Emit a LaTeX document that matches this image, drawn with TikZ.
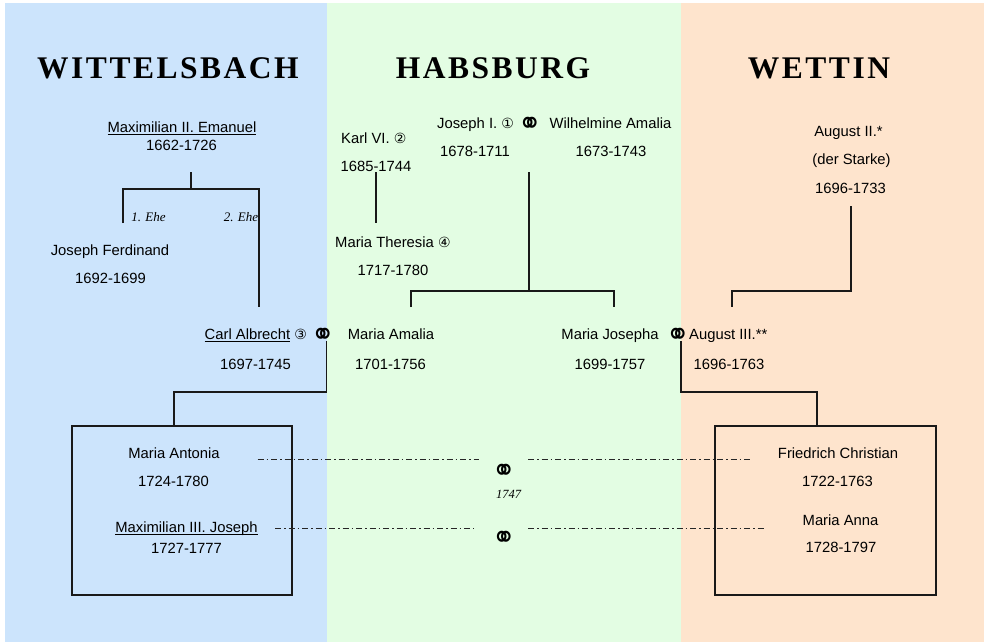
\documentclass[tikz,border=0pt]{standalone}
\usepackage{graphicx}
\usepackage{fontspec}
\setmainfont{Liberation Sans}
\newfontfamily\titlefont[LetterSpace=8]{Liberation Serif}
\newfontfamily\seriffont{Liberation Serif}
\newfontfamily\symfont{DejaVu Sans}
\definecolor{bgblue}{RGB}{204,228,252}
\definecolor{bggreen}{RGB}{227,253,227}
\definecolor{bgorange}{RGB}{254,228,205}
\newcommand{\wed}{\raisebox{-6pt}{\scalebox{1}[1.15]{\symfont\fontsize{28}{28}\selectfont ⚭}}}
\newcommand{\circnum}[1]{{\symfont\fontsize{14}{14}\selectfont #1}}
\newcommand{\myul}[1]{\leavevmode\setbox0\hbox{#1}\rlap{\rule[-2.8pt]{\wd0}{1.3pt}}\box0\relax}
\tikzset{
  title/.style={font=\titlefont\bfseries\fontsize{31.5}{33}\selectfont, anchor=base, inner sep=0},
  person/.style={font=\fontsize{14.8}{17}\selectfont, anchor=base, inner sep=0},
  personw/.style={person, anchor=base west},
  ehe/.style={font=\seriffont\itshape\fontsize{13}{14}\selectfont, anchor=base, inner sep=0},
  link/.style={line width=1.4pt, draw=black!90},
  wedlink/.style={line width=1pt, draw=black!85, dash pattern=on 6pt off 3pt on 1.5pt off 3pt},
  family/.style={draw=black!90, line width=1.4pt, minimum height=169pt, inner sep=0}
}
\begin{document}
\begin{tikzpicture}[x=1pt,y=-1pt]
\useasboundingbox (0,0) rectangle (984,642);
\fill[bgblue] (5,3) rectangle (327,642);
\fill[bggreen] (327,3) rectangle (681,642);
\fill[bgorange] (681,3) rectangle (984,642);

% titles
\node[title] (tW) at (168,78) {WITTELSBACH};
\node[title] (tH) at (493,78) {HABSBURG};
\node[title] (tE) at (819,78) {WETTIN};

% Wittelsbach
\node[person] (max2) at (182,132) {\myul{Maximilian II. Emanuel}};
\node[person] (max2d) at (181.5,150) {1662-1726};
\node[ehe] (ehe1) at (148.5,221.7) {1. Ehe};
\node[ehe] (ehe2) at (241,221.7) {2. Ehe};
\node[person] (jf) at (110,255) {Joseph Ferdinand};
\node[person] (jfd) at (110.5,283.3) {1692-1699};

% Habsburg
\node[personw] (karl) at (341,143.3) {Karl VI. \circnum{②}};
\node[person] (karld) at (376,171) {1685-1744};
\node[personw] (mt) at (335,247.7) {Maria Theresia \circnum{④}};
\node[person] (mtd) at (393,275.7) {1717-1780};
\node[personw] (j1) at (437,128.3) {Joseph I. \circnum{①} \wed};
\node[person] (j1d) at (475,156) {1678-1711};
\node[person] (wa) at (610.5,128.3) {Wilhelmine Amalia};
\node[person] (wad) at (611,156) {1673-1743};

% Wettin
\node[person] (a2) at (848.5,136.7) {August II.*};
\node[person] (a2n) at (851.5,164.5) {(der Starke)};
\node[person] (a2d) at (850.5,193.3) {1696-1733};

% spouses row
\node[personw] (ca) at (204.5,339.3) {\myul{Carl Albrecht} \circnum{③} \wed};
\node[person] (cad) at (255.5,369) {1697-1745};
\node[person] (ma) at (391,339.3) {Maria Amalia};
\node[person] (mad) at (390.5,369) {1701-1756};
\node[person] (mj) at (610,339.3) {Maria Josepha};
\node[person] (mjd) at (610,369) {1699-1757};
\node[person] (wedR) at (678.5,339.3) {\wed};
\node[personw] (a3) at (689,339.3) {August III.**};
\node[person] (a3d) at (729,369) {1696-1763};

% boxes
\node[family, minimum width=220pt] (boxL) at (182,510.5) {};
\node[family, minimum width=221pt] (boxR) at (825.5,510.5) {};

\node[person] (man) at (174,458.3) {Maria Antonia};
\node[person] (mand) at (173.5,486) {1724-1780};
\node[person] (m3) at (186.5,532) {\myul{Maximilian III. Joseph}};
\node[person] (m3d) at (186.5,553.3) {1727-1777};
\node[person] (fc) at (838,458.3) {Friedrich Christian};
\node[person] (fcd) at (837.5,486) {1722-1763};
\node[person] (mann) at (840.5,525) {Maria Anna};
\node[person] (mannd) at (841,552.7) {1728-1797};

% double wedding
\node[person] (w1) at (504,475.5) {\wed};
\node[ehe, font=\seriffont\itshape\fontsize{12.5}{14}\selectfont] (yr) at (508.5,498) {1747};
\node[person] (w2) at (504,542.5) {\wed};

% connectors
\coordinate (mxT) at (191,172);
\coordinate (mxM) at (191,189);
\coordinate (mxL) at (123,223);
\coordinate (mxR) at (259,307);
\draw[link] (mxT) -- (mxM);
\draw[link] (mxL) -- (123,189) -- (259,189) -- (mxR);

\coordinate (kT) at (376,172);
\coordinate (kB) at (376,223);
\draw[link] (kT) -- (kB);

\coordinate (jT) at (529,172);
\coordinate (jM) at (529,291);
\coordinate (jL) at (411,307);
\coordinate (jR) at (614,307);
\draw[link] (jT) -- (jM);
\draw[link] (jL) -- (411,291) -- (614,291) -- (jR);

\coordinate (aT) at (851,206);
\coordinate (aB) at (732,307);
\draw[link] (aT) -- (851,291) -- (732,291) -- (aB);

\coordinate (cT) at (326.5,341);
\draw[link] (cT) -- (326.5,392) -- (174,392) -- (174,392 |- boxL.north);
\coordinate (sT) at (681,341);
\draw[link] (sT) -- (681,392) -- (817,392) -- (817,392 |- boxR.north);

\coordinate (d1a) at (257.5,459);
\coordinate (d1b) at (479,459);
\coordinate (d1c) at (528,459);
\coordinate (d1d) at (750,459);
\coordinate (d2a) at (275,528);
\coordinate (d2b) at (474,528);
\coordinate (d2c) at (528,528);
\coordinate (d2d) at (766,528);
\draw[wedlink] (d1a) -- (d1b);
\draw[wedlink] (d1c) -- (d1d);
\draw[wedlink] (d2a) -- (d2b);
\draw[wedlink] (d2c) -- (d2d);
\end{tikzpicture}
\end{document}
